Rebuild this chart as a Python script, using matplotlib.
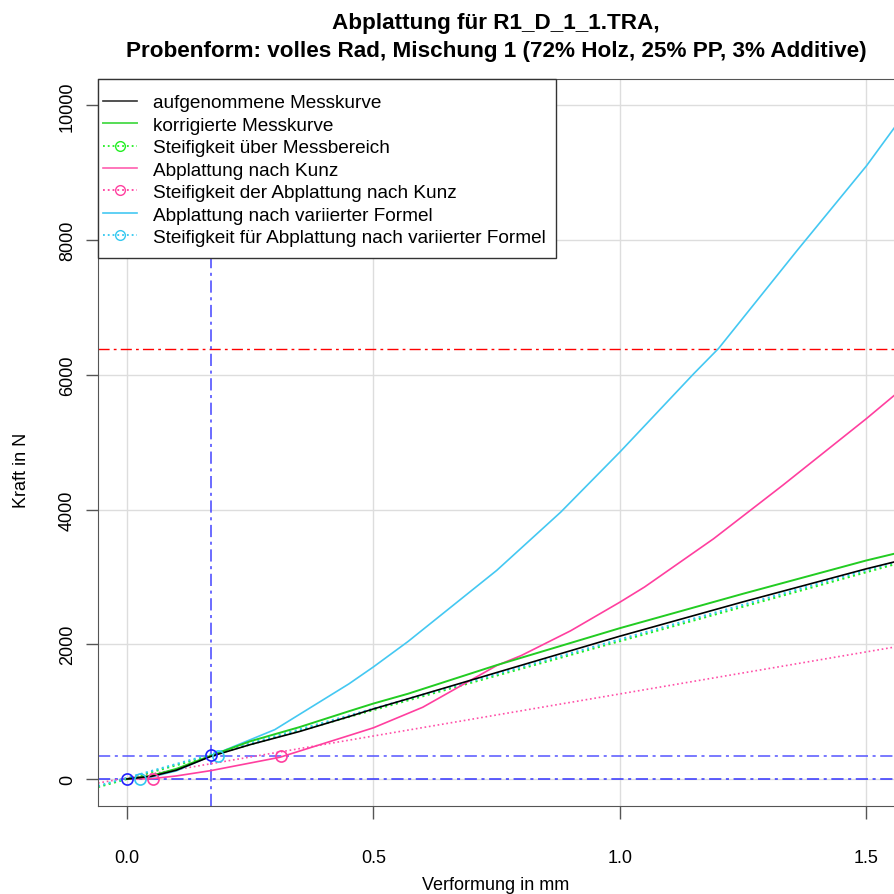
import numpy as np
import matplotlib.pyplot as plt
from matplotlib.lines import Line2D
from matplotlib.patches import Rectangle

plt.rcParams['font.family'] = ['Liberation Sans', 'DejaVu Sans']

# Messkurven (Verformung in mm, Kraft in N)
x_mess = [0.0, 0.05, 0.1, 0.17, 0.25, 0.35, 0.45, 0.5, 0.57, 0.75, 1.0, 1.25, 1.5, 1.6]
f_aufg = [0, 40, 130, 335, 510, 705, 925, 1040, 1190, 1580, 2120, 2630, 3120, 3300]
f_korr = [0, 50, 150, 345, 560, 770, 1005, 1120, 1265, 1690, 2239, 2750, 3244, 3420]

x_kunz = [0.0, 0.05, 0.1, 0.17, 0.31, 0.45, 0.5, 0.6, 0.75, 0.8, 0.9, 1.0, 1.05, 1.19, 1.33, 1.5, 1.6]
f_kunz = [0, 5, 45, 124, 322, 644, 760, 1065, 1684, 1833, 2200, 2625, 2850, 3566, 4358, 5349, 5960]

x_var = [0.0, 0.05, 0.1, 0.17, 0.3, 0.45, 0.5, 0.57, 0.75, 0.88, 1.0, 1.15, 1.2, 1.36, 1.5, 1.6]
f_var = [0, 30, 120, 342, 733, 1411, 1664, 2040, 3096, 3962, 4854, 6018, 6390, 7850, 9100, 10100]

# Steifigkeiten: Geraden (zwei Punkte) und markierte Punkte
gerade_mess = [(0.0, 0), (1.5, 3070)]
gerade_kunz = [(-0.011, 0), (1.5, 1887)]
gerade_var = [(-0.008, 0), (1.5, 3100)]
punkte_mess = [(0.0, 0), (0.17, 350)]
punkte_kunz = [(0.052, 0), (0.312, 342)]
punkte_var = [(0.027, 0), (0.185, 342)]

f_max = 6375
f_grenze = 342
s_grenze = 0.17

fig = plt.figure(figsize=(8.94, 8.95), dpi=100)
ax = fig.add_axes([98 / 894, 1 - 807 / 895, 798 / 894, 727 / 895])

ax.set_xlim(-0.0588, 1.56)
ax.set_ylim(-401, 10390)
ax.set_xticks([0.0, 0.5, 1.0, 1.5])
ax.set_xticklabels(['0.0', '0.5', '1.0', '1.5'])
ax.set_yticks([0, 2000, 4000, 6000, 8000, 10000])
ax.grid(color='#dddddd', lw=1)
ax.set_axisbelow(True)

ax.tick_params(length=9, width=1, color='#555555', labelsize=13)
ax.tick_params(axis='x', pad=22)
ax.tick_params(axis='y', pad=7)
for lab in ax.get_yticklabels():
    lab.set_rotation(90)
    lab.set_va('center')
for sp in ax.spines.values():
    sp.set_color('#555555')

dashdot = (0, (8, 3, 2, 3))
ax.axhline(f_max, color='#ff0000', lw=1, ls=dashdot)
ax.axhline(0, color='#3333ff', lw=1.1, ls=dashdot)
ax.axhline(f_grenze, color='#5555ff', lw=1.1, ls=dashdot)
ax.axvline(s_grenze, color='#4444ff', lw=1.1, ls=dashdot)

ax.axline(gerade_kunz[0], gerade_kunz[1], color='#ff4fa8', lw=1.2, ls=':')
ax.axline(gerade_mess[0], gerade_mess[1], color='#22ee22', lw=1.5, ls=':')
ax.axline(gerade_var[0], gerade_var[1], color='#33c8f0', lw=1.5, ls=':')

ax.plot(x_var, f_var, color='#44c8f2', lw=1.2)
ax.plot(x_kunz, f_kunz, color='#ff3f9f', lw=1.2)
ax.plot(x_mess, f_korr, color='#22cc22', lw=1.4)
ax.plot(x_mess, f_aufg, color='black', lw=1.2)

ax.plot(*zip(*punkte_kunz), ls='none', marker='o', ms=8, mfc='none', mec='#ff3f9f', mew=1.2)
ax.plot(*zip(*punkte_var), ls='none', marker='o', ms=8, mfc='none', mec='#33c8f0', mew=1.2)
ax.plot(*zip(*punkte_mess), ls='none', marker='o', ms=8, mfc='none', mec='#2222ff', mew=1.2)

handles = [
    Line2D([], [], color='#333333', lw=1.2),
    Line2D([], [], color='#55dd55', lw=1.4),
    Line2D([], [], color='#22ee22', lw=1.3, ls=':', marker='o', ms=7, mfc='none'),
    Line2D([], [], color='#ff5faf', lw=1.2),
    Line2D([], [], color='#ff3f9f', lw=1.3, ls=':', marker='o', ms=7, mfc='none'),
    Line2D([], [], color='#44c8f2', lw=1.2),
    Line2D([], [], color='#33c8f0', lw=1.3, ls=':', marker='o', ms=7, mfc='none'),
]
labels = [
    'aufgenommene Messkurve',
    'korrigierte Messkurve',
    'Steifigkeit über Messbereich',
    'Abplattung nach Kunz',
    'Steifigkeit der Abplattung nach Kunz',
    'Abplattung nach variierter Formel',
    'Steifigkeit für Abplattung nach variierter Formel',
]
# Rahmen der Legende wie in R: oben links an der Achse
ax.add_patch(Rectangle((0, 1 - 179 / 727), 458 / 798, 179 / 727, transform=ax.transAxes,
                       facecolor='white', edgecolor='#333333', lw=1, zorder=4.9,
                       clip_on=False))
leg = ax.legend(handles, labels, loc='upper left', bbox_to_anchor=(5 / 798, 1 - 15 / 727),
                borderaxespad=0, borderpad=0, fontsize=13.7, frameon=False,
                handlelength=1.8, handletextpad=0.85, labelspacing=0.27)

fig.text(496 / 894, 1 - 29 / 895, 'Abplattung für R1_D_1_1.TRA,', ha='center', va='baseline',
         fontsize=16.2, fontweight='bold')
fig.text(496 / 894, 1 - 57 / 895,
         'Probenform: volles Rad, Mischung 1 (72% Holz, 25% PP, 3% Additive)',
         ha='center', va='baseline', fontsize=16.2, fontweight='bold')
fig.text(496 / 894, 1 - 886 / 895, 'Verformung in mm', ha='center', va='center', fontsize=13)
fig.text(22 / 894, 1 - 470 / 895, 'Kraft in N', ha='center', va='center', fontsize=13, rotation=90)

fig.savefig('out.png', dpi=100)
